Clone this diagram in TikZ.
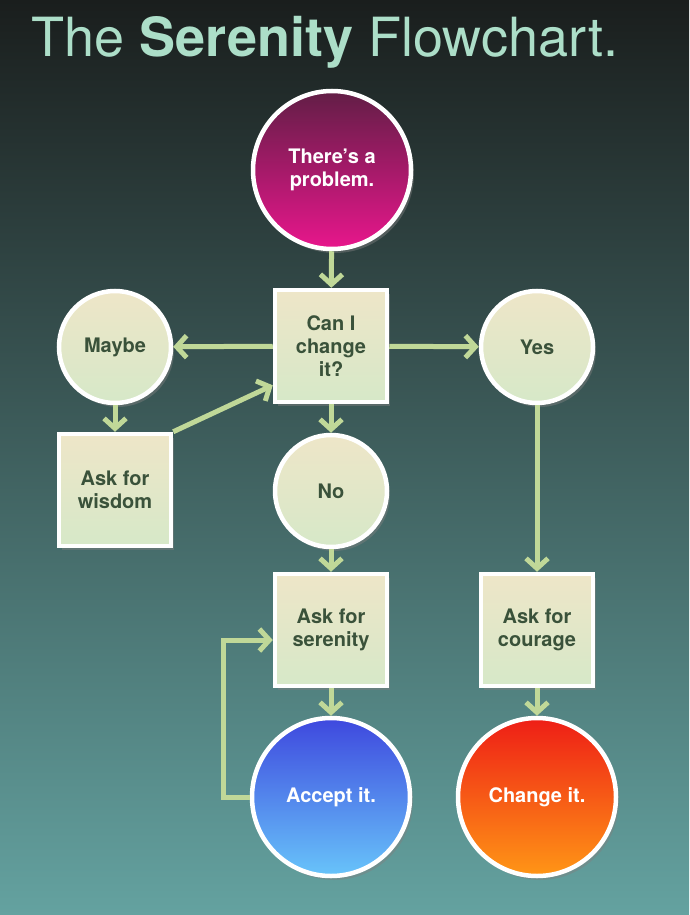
\documentclass[tikz,border=0pt]{standalone}
\usepackage{fontspec}
\setmainfont{TeX Gyre Heros}
\usetikzlibrary{arrows.meta,shadows}

\definecolor{bgtop}{RGB}{26,30,29}
\definecolor{bgmid}{RGB}{40,86,86}
\definecolor{bgbot}{RGB}{100,162,160}
\definecolor{titlemint}{RGB}{172,222,200}
\definecolor{creamtop}{RGB}{238,230,200}
\definecolor{creambot}{RGB}{214,232,200}
\definecolor{inkgreen}{RGB}{58,82,58}
\definecolor{arrowgreen}{RGB}{192,216,152}

\begin{document}
\begin{tikzpicture}[x=1pt,y=-1pt,
    every node/.style={font=\bfseries\fontsize{20}{23}\selectfont, text=inkgreen, align=center, inner sep=0pt},
    bubble/.style={circle, draw=white, line width=4.5pt, top color=creamtop, bottom color=creambot,
      minimum size=112pt, drop shadow={opacity=0.45, shadow xshift=3pt, shadow yshift=-4pt}},
    card/.style={rectangle, draw=white, line width=4.5pt, top color=creamtop, bottom color=creambot,
      minimum size=112pt, drop shadow={opacity=0.45, shadow xshift=3pt, shadow yshift=-4pt}},
    bigbubble/.style={bubble, minimum size=158pt, text=white},
    flow/.style={draw=arrowgreen, line width=5pt, line join=miter,
      -{Straight Barb[length=10pt,width=22pt,line width=5pt]}}
  ]
  % page is 689 x 915, y grows downwards
  \useasboundingbox (0,0) rectangle (689,915);
  \shade[top color=bgtop, middle color=bgmid, bottom color=bgbot] (0,0) rectangle (689,915);

  % Title
  \node[font=\fontsize{54}{60}\selectfont, text=titlemint] (title) at (325,42)
    {The \textbf{Serenity} Flowchart.};

  % Start and end circles
  \node[bigbubble, top color={rgb,255:red,98;green,30;blue,70}, bottom color={rgb,255:red,232;green,22;blue,140}]
    (problem) at (332,170) {There’s a\\problem.};
  \node[bigbubble, top color={rgb,255:red,62;green,72;blue,222}, bottom color={rgb,255:red,104;green,196;blue,250}]
    (accept) at (331,797) {Accept it.};
  \node[bigbubble, top color={rgb,255:red,238;green,30;blue,22}, bottom color={rgb,255:red,255;green,150;blue,22}]
    (changeit) at (537,797) {Change it.};

  % Question and answers
  \node[card] (change) at (331,346) {Can I\\change\\it?};
  \node[bubble] (maybe) at (115,347) {Maybe};
  \node[bubble] (yes) at (537,347) {Yes};
  \node[bubble] (no) at (331,491) {No};

  % Requests
  \node[card] (wisdom) at (115,490) {Ask for\\wisdom};
  \node[card] (serenity) at (331,630) {Ask for\\serenity};
  \node[card] (courage) at (537,630) {Ask for\\courage};

  % Connectors
  \draw[flow] (problem) -- (change);
  \draw[flow] (change) -- (maybe);
  \draw[flow] (change) -- (yes);
  \draw[flow] (maybe) -- (wisdom);
  \draw[flow] (wisdom.north east) -- (change.214);
  \draw[flow] (change) -- (no);
  \draw[flow] (no) -- (serenity);
  \draw[flow] (yes) -- (courage);
  \draw[flow] (serenity) -- (accept);
  \draw[flow] (courage) -- (changeit);

  % loop back from accepting to serenity
  \coordinate (loop) at (223,640);
  \draw[flow] (accept.west) -- (accept.west -| loop) -- (loop) -- (loop -| serenity.west);
\end{tikzpicture}
\end{document}
